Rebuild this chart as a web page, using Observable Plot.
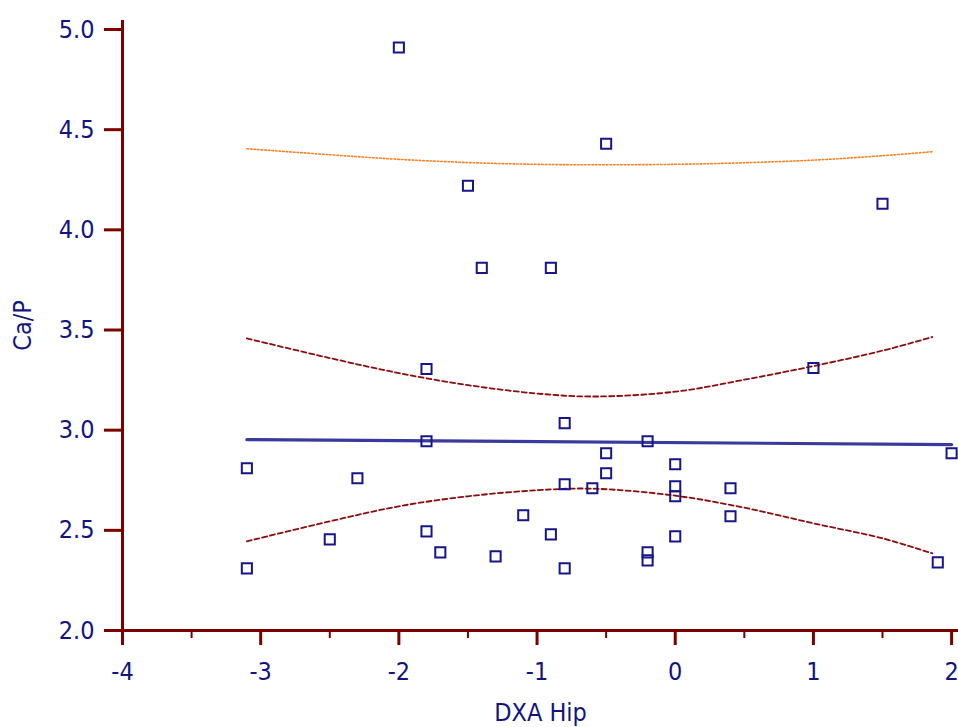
<!DOCTYPE html>
<html><head><meta charset="utf-8">
<script src="https://cdn.jsdelivr.net/npm/d3@7"></script>
<script src="https://cdn.jsdelivr.net/npm/@observablehq/plot@0.6"></script>
<style>body{margin:0;background:#fff}</style>
</head><body><div id="chart"></div>
<script>
// Scatter points: DXA Hip (x) vs Ca/P (y)
const pointX = [-2.0, -0.5, -1.5, -1.4, -0.9, 1.5, -1.8, 1.0, -0.8, -1.8, -0.5, -0.2, 2.0, -3.1, 0, -2.3, -0.5, -0.8, -0.6, 0, 0, 0.4, 0.4, -1.1, -1.8, -0.9, -2.5, -1.7, -1.3, -0.2, -0.2, 0, -3.1, -0.8, 1.9];
const pointY = [4.91, 4.43, 4.22, 3.81, 3.81, 4.13, 3.305, 3.31, 3.035, 2.945, 2.885, 2.945, 2.885, 2.81, 2.83, 2.76, 2.785, 2.73, 2.71, 2.72, 2.67, 2.71, 2.57, 2.575, 2.495, 2.48, 2.455, 2.39, 2.37, 2.39, 2.35, 2.47, 2.31, 2.31, 2.34];
// Regression line
const fitX = [-3.1, 2.0];
const fitY = [2.953, 2.928];
// Confidence and prediction bands
const bandX = [-3.1, -2.5, -2.0, -1.5, -1.0, -0.6, 0, 0.5, 1.0, 1.5, 1.86];
const confUpper = [3.458, 3.36, 3.285, 3.225, 3.183, 3.168, 3.192, 3.252, 3.32, 3.397, 3.465];
const confLower = [2.445, 2.545, 2.62, 2.67, 2.70, 2.708, 2.673, 2.613, 2.535, 2.46, 2.385];
const predUpper = [4.405, 4.375, 4.352, 4.336, 4.327, 4.325, 4.327, 4.335, 4.348, 4.37, 4.39];
// Ticks
const xTicks = [-4, -3, -2, -1, 0, 1, 2];
const xMinorTicks = [-3.5, -2.5, -1.5, -0.5, 0.5, 1.5];
const yTicks = [2.0, 2.5, 3.0, 3.5, 4.0, 4.5, 5.0];

const navy = "#14147f";
const axisRed = "#7d0000";

const points = pointX.map((x, i) => ({x, y: pointY[i]}));
const fit = fitX.map((x, i) => ({x, y: fitY[i]}));
const cu = bandX.map((x, i) => ({x, y: confUpper[i]}));
const cl = bandX.map((x, i) => ({x, y: confLower[i]}));
const pu = bandX.map((x, i) => ({x, y: predUpper[i]}));

const chart = Plot.plot({
  width: 958,
  height: 727,
  marginLeft: 122,
  marginRight: 0,
  marginTop: 20,
  marginBottom: 97,
  x: {domain: [-4, 2.05]},
  y: {domain: [2, 5.045]},
  style: {fontFamily: "'DejaVu Sans Condensed', 'DejaVu Sans', sans-serif", fontStretch: "condensed", fontSize: "25px", color: navy, background: "#fff"},
  marks: [
    Plot.line(pu, {x: "x", y: "y", stroke: "#ff7f1e", strokeWidth: 1.6, strokeDasharray: "1.6,2", curve: "catmull-rom"}),
    Plot.line(cu, {x: "x", y: "y", stroke: "#8b0c0c", strokeWidth: 1.8, strokeDasharray: "5,3", curve: "catmull-rom"}),
    Plot.line(cl, {x: "x", y: "y", stroke: "#8b0c0c", strokeWidth: 1.8, strokeDasharray: "5,3", curve: "catmull-rom"}),
    Plot.line(fit, {x: "x", y: "y", stroke: "#3a3a9c", strokeWidth: 3.2}),
    Plot.dot(points, {x: "x", y: "y", symbol: "square", r: 5.7, stroke: "#16168a", strokeWidth: 2, fill: "none"}),
    Plot.ruleX([-4], {stroke: axisRed, strokeWidth: 3}),
    Plot.ruleY([2], {stroke: axisRed, strokeWidth: 3}),
    Plot.axisX(xMinorTicks, {tickSize: 8, stroke: axisRed, strokeWidth: 2, fill: "none", label: null}),
    Plot.axisX(xTicks, {tickSize: 15, tickPadding: 17, stroke: axisRed, strokeWidth: 3, fill: navy, fontSize: 25,
      tickFormat: d => String(d), label: "DXA Hip", labelAnchor: "center", labelArrow: "none", labelOffset: 90}),
    Plot.axisY(yTicks, {tickSize: 18, tickPadding: 10, stroke: axisRed, strokeWidth: 3, fill: navy, fontSize: 25,
      tickFormat: d => d.toFixed(1), label: "Ca/P", labelAnchor: "center", labelArrow: "none", labelOffset: 109})
  ]
});
document.getElementById("chart").appendChild(chart);
</script>
</body></html>
